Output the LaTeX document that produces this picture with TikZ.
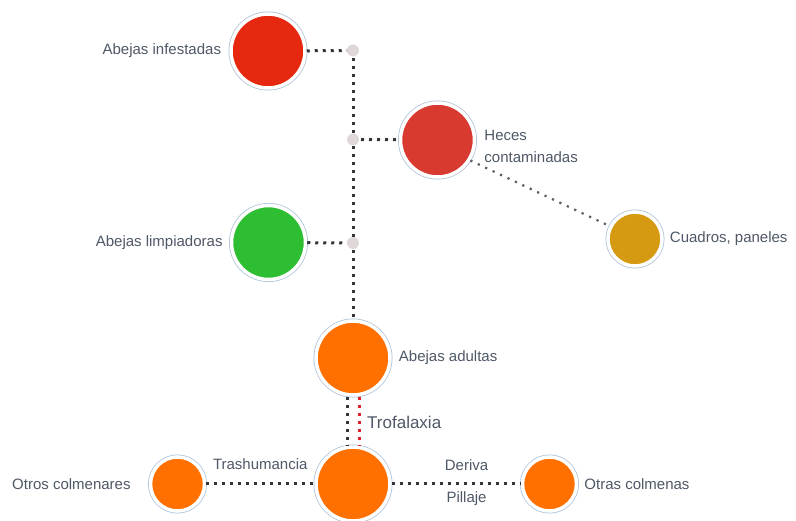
\documentclass[tikz,border=0pt]{standalone}
\usepackage{fontspec}
\setmainfont{Liberation Sans}
\usetikzlibrary{positioning}
\definecolor{ringblue}{RGB}{172,192,214}
\definecolor{txtgray}{RGB}{78,88,102}
\definecolor{dotgray}{RGB}{52,52,58}
\definecolor{jgray}{RGB}{224,216,216}
\definecolor{infred}{RGB}{230,40,16}
\definecolor{hecesred}{RGB}{217,58,48}
\definecolor{cleangreen}{RGB}{45,190,50}
\definecolor{combgold}{RGB}{213,154,18}
\definecolor{beeorange}{RGB}{255,112,0}
\definecolor{trofred}{RGB}{226,32,40}

\begin{document}
\begin{tikzpicture}[
		x=1pt, y=-1pt,
		bee/.style={circle, fill=#1, draw=white, line width=3.5pt, minimum size=74pt, inner sep=0pt,
			preaction={draw=ringblue, line width=5pt}},
		smallbee/.style={bee=#1, minimum size=54pt},
		lbl/.style={inner sep=0pt, text=txtgray, font=\fontsize{15}{22}\selectfont},
		dots/.style={draw=dotgray, line width=3pt, dash pattern=on 3pt off 5pt},
		thindots/.style={draw=dotgray!80, line width=2.2pt, dash pattern=on 2.2pt off 6pt},
		jn/.style={circle, fill=jgray, minimum size=12pt, inner sep=0pt}
	]
		\useasboundingbox (0,0) rectangle (796,521);

		% circles
		\node[bee=infred] (infestadas) at (268,51) {};
		\node[bee=hecesred] (heces) at (437.5,140) {};
		\node[bee=cleangreen] (limpiadoras) at (268.5,242.5) {};
		\node[smallbee=combgold] (cuadros) at (635,239) {};
		\node[bee=beeorange] (adultas) at (353,358) {};
		\node[bee=beeorange] (colmena) at (353,484) {};
		\node[smallbee=beeorange] (colmenares) at (177.5,484) {};
		\node[smallbee=beeorange] (colmenas) at (549.5,484) {};

		\coordinate (j1) at (353,50.5);
		\coordinate (j2) at (353,139.5);
		\coordinate (j3) at (353,243);

		% connectors
		\draw[dots] (infestadas) -- (j1);
		\draw[dots] (j2) -- (heces);
		\draw[dots] (limpiadoras) -- (j3);
		\draw[dots] (j1) -- (adultas);
		\draw[thindots] (heces.-32) -- (cuadros.153);
		\draw[dots] ([xshift=-6pt]adultas.south) -- ([xshift=-6pt]colmena.north);
		\draw[dots, draw=trofred] ([xshift=6pt]adultas.south) -- ([xshift=6pt]colmena.north);
		\draw[dots] (colmenares) -- (colmena)
			node[lbl, midway, above=12.5pt] (tTrash) {Trashumancia};
		\draw[dots] (colmena) -- (colmenas)
			node[lbl, pos=0.58, above=12pt] (tDeriva) {Deriva}
			node[lbl, pos=0.58, below=6.5pt] (tPillaje) {Pillaje};

		\node[jn] (j1dot) at (j1) {};
		\node[jn] (j2dot) at (j2) {};
		\node[jn] (j3dot) at (j3) {};

		% labels
		\node[lbl, left=8pt of infestadas] (tInfestadas) {Abejas infestadas};
		\node[lbl, left=7pt of limpiadoras] (tLimpiadoras) {Abejas limpiadoras};
		\node[lbl, right=8pt of heces, yshift=-6pt, align=left] (tHeces) {Heces\\contaminadas};
		\node[lbl, right=6pt of cuadros] (tCuadros) {Cuadros, paneles};
		\node[lbl, right=7pt of adultas] (tAdultas) {Abejas adultas};
		\node[lbl, left=18pt of colmenares] (tColmenares) {Otros colmenares};
		\node[lbl, right=6pt of colmenas] (tColmenas) {Otras colmenas};
		\node[lbl, anchor=west, font=\fontsize{17}{20}\selectfont] (tTrof) at (367,422) {Trofalaxia};
	\end{tikzpicture}
\end{document}
